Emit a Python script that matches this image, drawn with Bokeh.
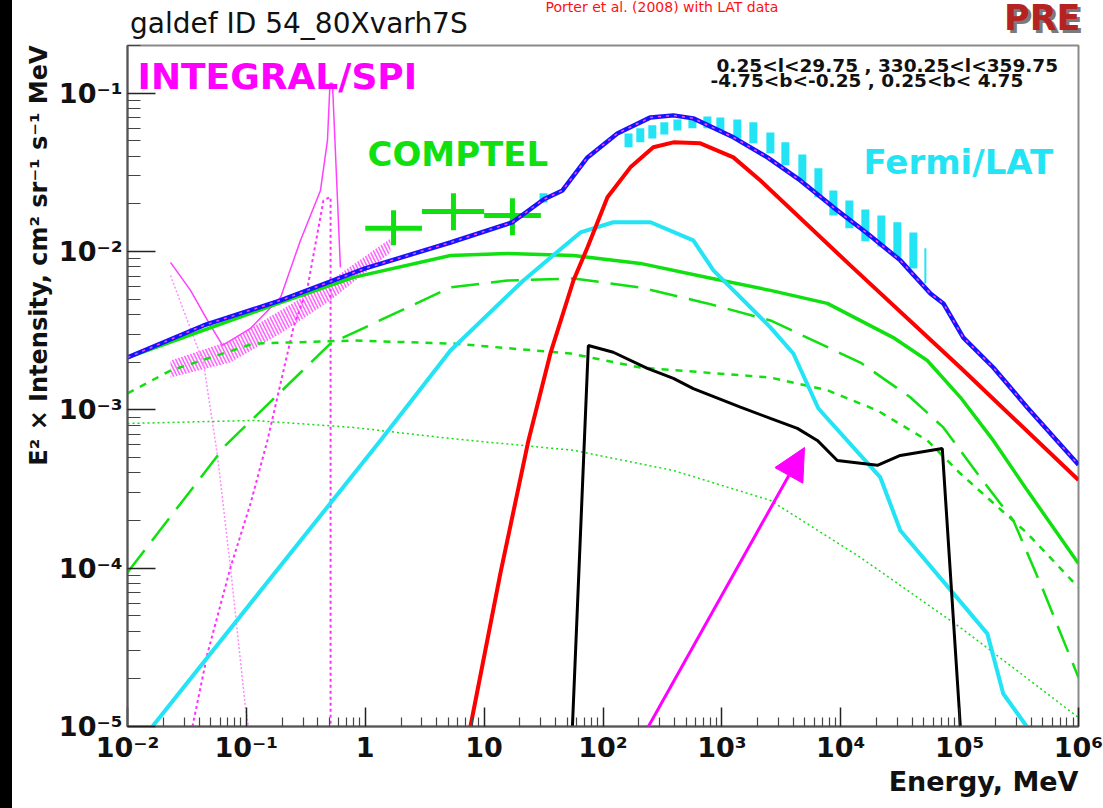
import numpy as np
from bokeh.plotting import figure
from bokeh.models import Range1d, FixedTicker, Label, Arrow, NormalHead, Div, Title
from bokeh.layouts import row, column
from bokeh.embed import file_html
from bokeh.resources import INLINE

# ---------------- data ----------------
# total model
E_total = [0.01, 0.0436, 0.194, 1.0, 5.21, 17.3, 31.6, 45.6, 74.0, 132, 251, 391, 575, 1250,
           2415, 4571, 8670, 16750, 31700, 56750, 72950, 107400, 191900, 370700, 1.0e6]
I_total = [2.14e-3, 3.41e-3, 4.91e-3, 7.82e-3, 0.0114, 0.0153, 0.0213, 0.0243, 0.0393, 0.0557,
           0.0703, 0.0724, 0.0693, 0.0526, 0.0393, 0.0281, 0.0190, 0.0130, 8.79e-3, 5.43e-3,
           4.70e-3, 2.86e-3, 1.85e-3, 1.035e-3, 4.5e-4]

# pi0-decay (red)
E_pi0 = [7.67, 13.7, 23.6, 36.1, 56.4, 74.0, 109, 170, 265, 391, 659, 1250, 2109, 12050,
         101400, 1.0e6]
I_pi0 = [1e-5, 9.27e-5, 6.41e-4, 2.27e-3, 6.56e-3, 0.0106, 0.0220, 0.0340, 0.0455, 0.0489,
         0.0482, 0.0393, 0.0281, 8.17e-3, 1.85e-3, 3.6e-4]

# cyan component
E_cyan = [0.0162, 1.343, 5.21, 21.4, 64.6, 122, 251, 575, 849, 2559, 3990, 6486, 21530, 31700,
          171000, 232800, 370700]
I_cyan = [1e-5, 6.41e-4, 2.37e-3, 6.56e-3, 0.0132, 0.0153, 0.0153, 0.01175, 7.60e-3, 3.32e-3,
          2.27e-3, 1.02e-3, 3.74e-4, 1.73e-4, 3.86e-5, 1.61e-5, 9.9e-6]

# green components: solid, long-dashed, short-dashed, dotted
E_ic = [0.01, 0.194, 0.796, 5.21, 15.7, 56.4, 206, 755, 2559, 7709, 27670, 53460, 101400,
        191900, 370700, 1.0e6]
I_ic = [2.14e-3, 4.76e-3, 6.86e-3, 9.44e-3, 9.73e-3, 9.44e-3, 8.41e-3, 6.86e-3, 5.68e-3,
        4.70e-3, 2.86e-3, 2.05e-3, 1.20e-3, 6.41e-4, 3.10e-4, 1.07e-4]

E_ic_opt = [0.01, 0.0667, 0.509, 5.21, 15.7, 56.4, 206, 755, 2559, 14620, 38460, 72950, 141000,
            283100, 505800, 1.0e6]
I_ic_opt = [9.40e-5, 5.96e-4, 2.62e-3, 5.93e-3, 6.56e-3, 6.76e-3, 5.93e-3, 4.70e-3, 3.67e-3,
            1.99e-3, 1.20e-3, 7.74e-4, 3.96e-4, 2.00e-4, 7.23e-5, 2.04e-5]

E_ic_ir = [0.01, 0.023, 0.1148, 0.796, 5.52, 53.2, 206, 2559, 7709, 20320, 53460, 101400,
           370700, 1.0e6]
I_ic_ir = [1.27e-3, 1.77e-3, 2.62e-3, 2.74e-3, 2.62e-3, 2.27e-3, 1.85e-3, 1.60e-3, 1.33e-3,
           9.91e-4, 6.41e-4, 3.96e-4, 1.66e-4, 7.55e-5]

E_ic_cmb = [0.01, 0.1148, 0.796, 5.21, 56.4, 391, 2559, 14620, 101400, 1.0e6]
I_ic_cmb = [8.20e-4, 8.57e-4, 7.74e-4, 6.59e-4, 5.55e-4, 4.14e-4, 2.68e-4, 1.17e-4, 4.22e-5,
            1.14e-5]

# black component
E_src = [55.3, 75.3, 122, 236, 391, 575, 1432, 2559, 4315, 6353, 9354, 20320, 31700, 71450,
         101400]
I_src = [1e-5, 2.55e-3, 2.31e-3, 1.83e-3, 1.58e-3, 1.36e-3, 1.04e-3, 8.83e-4, 7.64e-4, 6.41e-4,
         4.79e-4, 4.46e-4, 5.15e-4, 5.70e-4, 1e-5]

# INTEGRAL/SPI: data band, model sum, low-energy component, positronium + 511 keV line
E_spi = [0.023, 0.0735, 0.194, 0.509, 1.63]
I_spi_hi = [2.05e-3, 2.74e-3, 4.25e-3, 6.56e-3, 0.0121]
I_spi_lo = [1.60e-3, 1.99e-3, 3.04e-3, 4.91e-3, 9.86e-3]

E_spi_model = [0.023, 0.0339, 0.0471, 0.063, 0.1084, 0.194, 0.285, 0.42, 0.481, 0.505, 0.53, 0.618]
I_spi_model = [8.53e-3, 5.68e-3, 3.67e-3, 2.55e-3, 3.27e-3, 5.13e-3, 0.01175, 0.0243, 0.0503,
               0.1153, 0.1153, 7.94e-3]

E_spi_low = [0.023, 0.0436, 0.0571, 0.0735, 0.0982, 0.1042]
I_spi_low = [7.06e-3, 1.96e-3, 5.15e-4, 1.01e-4, 1.32e-5, 1e-5]

E_ps = [0.0352, 0.0471, 0.0735, 0.1084, 0.1504, 0.249, 0.327, 0.445, 0.50, 0.511, 0.511]
I_ps = [1e-5, 2.89e-5, 1.01e-4, 2.56e-4, 6.41e-4, 3.32e-3, 5.93e-3, 0.0210, 0.022, 0.022, 1e-5]

# COMPTEL crosses
E_comptel = [1.73, 5.52, 17.3]
E_comptel_lo = [1.0, 3.0, 10.0]
E_comptel_hi = [3.0, 10.0, 30.0]
I_comptel = [0.0140, 0.0179, 0.0169]
I_comptel_lo = [0.01094, 0.0136, 0.01265]
I_comptel_hi = [0.0182, 0.0233, 0.0217]

# Fermi/LAT data bars
E_lat = [31.6, 164, 206, 260, 328, 423, 565, 755, 971, 1349, 1840, 2559, 3420, 4753, 6486,
         8670, 11810, 16100, 21950, 29940, 40800, 51500]
I_lat_hi = [0.0233, 0.0557, 0.0600, 0.0627, 0.0655, 0.0683, 0.0703, 0.0713, 0.0703, 0.0683,
            0.0655, 0.0565, 0.0489, 0.0410, 0.0335, 0.0243, 0.0210, 0.01845, 0.0169, 0.01528,
            0.0132, 0.01047]
I_lat_lo = [0.0204, 0.0455, 0.0489, 0.0518, 0.0549, 0.0582, 0.0600, 0.0600, 0.0582, 0.0518,
            0.0482, 0.0417, 0.0350, 0.0277, 0.0220, 0.0169, 0.0140, 0.01159, 0.01076, 9.18e-3,
            7.82e-3, 6.28e-3]

x_ticks = [1e-2, 1e-1, 1, 10, 1e2, 1e3, 1e4, 1e5, 1e6]
x_labels = ["10⁻²", "10⁻¹", "1", "10", "10²", "10³", "10⁴", "10⁵", "10⁶"]
y_ticks = [1e-5, 1e-4, 1e-3, 1e-2, 1e-1]
y_labels = ["10⁻⁵", "10⁻⁴", "10⁻³", "10⁻²", "10⁻¹"]

# ---------------- layout ----------------
PAGE_W, PAGE_H = 1103, 808
BAR = 12                # black strip at the left edge
HEAD = 44               # header band above the plot
FL, FR, FT, FB = 127, 1078, 45, 726   # frame in page pixels
XMIN, XMAX, YMIN, YMAX = 1e-2, 1e6, 1e-5, 0.2


def ex(px):
    return 10 ** (np.log10(XMIN) + np.log10(XMAX / XMIN) * (px - FL) / (FR - FL))


def ey(py):
    return 10 ** (np.log10(YMIN) + np.log10(YMAX / YMIN) * (FB - py) / (FB - FT))


MAIN_H = PAGE_H - HEAD
p = figure(width=PAGE_W - BAR, height=MAIN_H, x_axis_type="log", y_axis_type="log",
           x_range=Range1d(XMIN, XMAX), y_range=Range1d(YMIN, YMAX),
           output_backend="svg", toolbar_location=None,
           min_border_left=FL - BAR, min_border_right=PAGE_W - FR,
           min_border_top=FT - HEAD, min_border_bottom=PAGE_H - FB)
p.margin = 0
p.background_fill_color = "white"
p.border_fill_color = "white"
p.outline_line_color = "#8a8a8a"
p.outline_line_width = 2
p.xgrid.visible = False
p.ygrid.visible = False

GREEN = "#10e010"
CYAN = "#22e4f4"
MAG = "#ff00ff"

# SPI hatched band
p.varea(x=E_spi, y1=I_spi_lo, y2=I_spi_hi, fill_color=None, fill_alpha=0,
        hatch_pattern="\\", hatch_color="#ff66ff", hatch_scale=7, hatch_weight=1.6)
# LAT bars
p.segment(x0=E_lat[:-1], y0=I_lat_lo[:-1], x1=E_lat[:-1], y1=I_lat_hi[:-1],
          line_color=CYAN, line_width=8)
p.segment(x0=E_lat[-1:], y0=I_lat_lo[-1:], x1=E_lat[-1:], y1=I_lat_hi[-1:],
          line_color=CYAN, line_width=2)

# INTEGRAL components
p.line(E_spi_low, I_spi_low, line_color="#ff8cff", line_width=1.5, line_dash="2 2")
p.line(E_ps, I_ps, line_color="#ff30ff", line_width=2, line_dash="3 3")
p.line(E_spi_model, I_spi_model, line_color="#ff40ff", line_width=1.5)

# green components
p.line(E_ic_cmb, I_ic_cmb, line_color=GREEN, line_width=1.5, line_dash="2 3")
p.line(E_ic_ir, I_ic_ir, line_color=GREEN, line_width=2.5, line_dash="7 7")
p.line(E_ic_opt, I_ic_opt, line_color=GREEN, line_width=2.5, line_dash="28 12")
p.line(E_ic, I_ic, line_color=GREEN, line_width=3.5)

# cyan, red, black
p.line(E_cyan, I_cyan, line_color=CYAN, line_width=4)
p.line(E_pi0, I_pi0, line_color="#ff0000", line_width=4)
p.line(E_src, I_src, line_color="black", line_width=3)

# COMPTEL crosses
p.segment(x0=E_comptel_lo, y0=I_comptel, x1=E_comptel_hi, y1=I_comptel,
          line_color=GREEN, line_width=5)
p.segment(x0=E_comptel, y0=I_comptel_lo, x1=E_comptel, y1=I_comptel_hi,
          line_color=GREEN, line_width=5)

# total
p.line(E_total, I_total, line_color="#1414ff", line_width=4.5)
p.line(E_total, I_total, line_color="#ff44ff", line_width=1.5, line_dash="3 5")

# ---------------- axes ----------------
x_minor = [m * 10.0 ** k for k in range(-2, 6) for m in range(2, 10)]
y_minor = [m * 10.0 ** k for k in range(-5, 0) for m in range(2, 10) if m * 10.0 ** k <= YMAX]
p.xaxis.ticker = FixedTicker(ticks=x_ticks, minor_ticks=x_minor)
p.yaxis.ticker = FixedTicker(ticks=y_ticks, minor_ticks=y_minor)
p.xaxis.major_label_overrides = dict(zip(x_ticks, x_labels))
p.yaxis.major_label_overrides = dict(zip(y_ticks, y_labels))
for ax in (p.xaxis, p.yaxis):
    ax.axis_line_color = "#555555"
    ax.axis_line_width = 2
    ax.major_tick_line_color = "#222222"
    ax.minor_tick_line_color = "#444444"
    ax.major_tick_line_width = 1.5
    ax.minor_tick_line_width = 1.2
    ax.major_tick_out = 0
    ax.minor_tick_out = 0
    ax.major_label_text_font = "DejaVu Sans"
    ax.major_label_text_font_style = "bold"
    ax.major_label_text_font_size = "27px"
    ax.major_label_text_color = "#111111"
p.xaxis.major_tick_in = 19
p.xaxis.minor_tick_in = 9
p.yaxis.major_tick_in = 28
p.yaxis.minor_tick_in = 13
p.xaxis.major_label_standoff = 5
p.yaxis.major_label_standoff = 5

# axis titles (placed at the ends of the axes, as in the reference)
p.add_layout(Title(text="E² × Intensity, cm² sr⁻¹ s⁻¹ MeV", align="right", offset=0,
                   standoff=6, text_font="DejaVu Sans", text_font_style="bold",
                   text_font_size="24px", text_color="#111111"), "left")
p.add_layout(Title(text="Energy, MeV", align="right", offset=0, standoff=0,
                   vertical_align="top",
                   text_font="DejaVu Sans", text_font_style="bold",
                   text_font_size="27px", text_color="#111111"), "below")

# ---------------- texts inside the frame ----------------
def lab(px, py, text, size, color, font="DejaVu Sans", style="bold", align="left",
        baseline="top"):
    p.add_layout(Label(x=ex(px), y=ey(py), text=text, text_font=font,
                       text_font_size=size, text_font_style=style, text_color=color,
                       text_align=align, text_baseline=baseline))


lab(137, 55, "INTEGRAL/SPI", "36px", MAG)
lab(367, 133, "COMPTEL", "34px", GREEN)
lab(863, 141, "Fermi/LAT", "34px", CYAN)
lab(716, 54, "0.25<l<29.75 , 330.25<l<359.75", "18.5px", "#111111")
lab(710, 69, "-4.75<b<-0.25 ,  0.25<b< 4.75", "18.5px", "#111111")

# pointer arrow
p.add_layout(Arrow(end=NormalHead(size=32, fill_color=MAG, line_color=MAG),
                   x_start=ex(597), y_start=ey(817), x_end=ex(804), y_end=ey(447),
                   line_color=MAG, line_width=3))

# ---------------- header band (HTML, positions in pixels from the header's left) ----------------
FONT = "font-family:'DejaVu Sans',sans-serif;white-space:nowrap;line-height:1;position:absolute;"
header_html = (
    f'<div style="position:relative;width:{PAGE_W - BAR}px;height:{HEAD}px;">'
    f'<div style="{FONT}left:340px;top:0px;width:620px;text-align:center;'
    f'font-size:14px;color:#ff1010;">Porter et al. (2008) with LAT data</div>'
    f'<div style="{FONT}left:118px;top:10px;font-size:28px;color:#111111;">'
    f'galdef ID 54_80Xvarh7S</div>'
    f'<div style="{FONT}left:992px;top:1px;font-size:35px;font-weight:bold;color:#b52222;'
    f'text-shadow:3px 3px 0 #7a7a7a;">PRE</div>'
    f'</div>'
)
header = Div(text=header_html, width=PAGE_W - BAR, height=HEAD, margin=0)

bar = Div(text="", width=BAR, height=PAGE_H, margin=0,
          styles={"background-color": "#000000"})
layout = row(bar, column(header, p, spacing=0), spacing=0)

open("out.html", "w").write(file_html(layout, INLINE))
